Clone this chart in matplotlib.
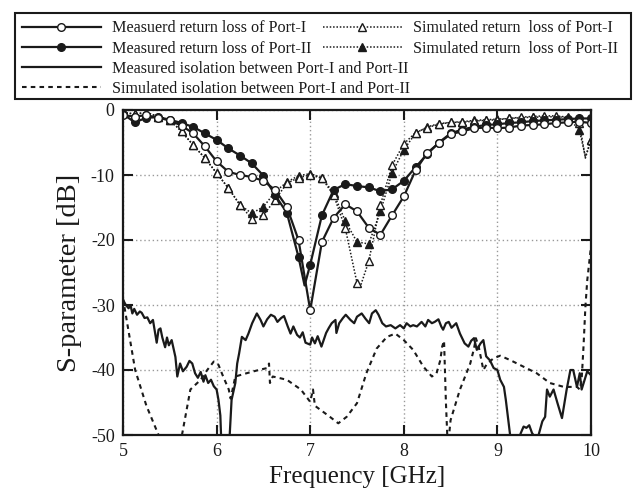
import numpy as np
import matplotlib
matplotlib.use("Agg")
import matplotlib.pyplot as plt
from matplotlib.lines import Line2D
from matplotlib.patches import Rectangle

plt.rcParams['font.family'] = ['Liberation Serif', 'DejaVu Serif']
plt.rcParams['axes.unicode_minus'] = False

# ---------------- data ----------------
# marker grid (GHz)
freq_grid = [5.0 + 0.125 * i for i in range(41)]

meas_p1 = [-0.8, -1.0, -0.8, -1.2, -1.6, -2.4, -3.6, -5.6, -7.9, -9.5,
           -10.0, -10.3, -10.9, -12.3, -14.9, -20.0, -30.8, -20.3, -16.6, -14.5,
           -15.6, -18.1, -19.2, -16.2, -13.3, -9.3, -6.6, -5.1, -3.7, -3.3,
           -2.8, -2.7, -2.8, -2.7, -2.4, -2.3, -2.2, -2.0, -1.9, -1.8, -2.0]

meas_p2 = [-0.6, -1.9, -1.2, -1.1, -1.5, -2.0, -2.6, -3.6, -4.6, -5.9,
           -7.0, -8.2, -10.1, -13.1, -15.8, -22.6, -23.8, -16.2, -12.3, -11.4,
           -11.7, -11.9, -12.5, -12.2, -10.9, -8.8, -6.8, -5.0, -3.6, -3.0,
           -2.6, -2.3, -2.2, -2.0, -1.9, -1.7, -1.6, -1.5, -1.4, -1.3, -1.3]

sim_p1 = [-0.4, -0.6, -0.4, -1.0, -1.5, -3.3, -5.4, -7.4, -9.7, -12.0,
          -14.6, -16.7, -16.2, -13.8, -11.3, -10.4, -10.0, -10.5, -13.1, -18.2,
          -26.6, -23.3, -14.6, -8.5, -5.2, -3.5, -2.7, -2.2, -1.9, -1.9,
          -1.7, -1.6, -1.5, -1.3, -1.1, -1.0, -0.9, -0.9, -1.1, -2.0, -4.6]

sim_p2 = [-0.4, -0.6, -0.4, -1.0, -1.5, -3.3, -5.4, -7.4, -9.7, -12.0,
          -14.6, -15.9, -14.9, -12.6, -11.1, -10.1, -9.8, -10.4, -12.8, -17.1,
          -20.3, -20.6, -15.6, -9.7, -6.1, -3.6, -2.6, -2.1, -1.9, -1.8,
          -1.6, -1.5, -1.4, -1.3, -1.2, -1.1, -1.1, -1.0, -1.2, -3.0, -4.6]

# extra line vertices (between markers) for the sharp dips
meas_p2_extra_f = [6.94]
meas_p2_extra_v = [-27.0]
sim_p1_extra_f = [7.53, 9.94]
sim_p1_extra_v = [-27.4, -7.4]
sim_p2_extra_f = [9.94]
sim_p2_extra_v = [-7.2]

iso_meas_f = [5.00, 5.03, 5.06, 5.08, 5.10, 5.12, 5.15, 5.18, 5.20, 5.23, 5.26, 5.29, 5.32, 5.34,
              5.36, 5.38, 5.40, 5.42, 5.45, 5.47, 5.49, 5.52, 5.56, 5.58, 5.61, 5.64, 5.68, 5.71,
              5.74, 5.77, 5.80, 5.83, 5.86, 5.88, 5.91, 5.94, 5.97, 6.00, 6.02, 6.04, 6.06, 6.13,
              6.14, 6.16, 6.20, 6.22, 6.24, 6.27, 6.31, 6.34, 6.38, 6.43, 6.47, 6.50, 6.54, 6.58,
              6.62, 6.65, 6.69, 6.72, 6.76, 6.79, 6.82, 6.86, 6.89, 6.92, 6.95, 7.00, 7.02, 7.05,
              7.08, 7.12, 7.17, 7.20, 7.23, 7.27, 7.28, 7.31, 7.35, 7.38, 7.43, 7.47, 7.50, 7.55,
              7.59, 7.63, 7.66, 7.70, 7.73, 7.77, 7.81, 7.86, 7.91, 7.96, 8.00, 8.03, 8.07, 8.10,
              8.14, 8.19, 8.23, 8.26, 8.30, 8.33, 8.37, 8.40, 8.42, 8.45, 8.48, 8.51, 8.56, 8.60,
              8.65, 8.69, 8.72, 8.75, 8.78, 8.82, 8.85, 8.88, 8.92, 8.96, 9.00, 9.03, 9.07, 9.09,
              9.12, 9.14, 9.16, 9.20, 9.22, 9.25, 9.28, 9.31, 9.34, 9.37, 9.40, 9.44, 9.48, 9.51,
              9.53, 9.56, 9.60, 9.64, 9.69, 9.74, 9.78, 9.81, 9.85, 9.88, 9.90, 9.96, 10.00]
iso_meas_v = [-29.2, -30.0, -30.5, -30.0, -31.3, -30.6, -31.5, -31.0, -31.2, -32.0, -31.9, -32.8, -32.3, -34.0,
              -35.8, -33.8, -33.6, -35.0, -36.5, -35.0, -36.2, -35.4, -38.0, -41.0, -39.0, -40.2, -39.5, -38.6,
              -39.0, -40.5, -41.2, -40.3, -41.8, -40.8, -42.0, -41.5, -42.5, -43.0, -44.6, -47.0, -55.0, -55.0,
              -50.0, -44.6, -42.0, -39.0, -37.5, -34.9, -35.4, -34.4, -32.8, -31.3, -32.3, -33.3, -32.2, -31.5,
              -31.8, -32.6, -32.0, -31.7, -33.3, -34.4, -33.3, -34.6, -35.0, -34.2, -35.8, -36.1, -35.0, -35.9,
              -34.8, -36.4, -34.3, -33.5, -32.8, -32.3, -34.3, -32.8, -32.0, -31.5, -32.3, -32.8, -31.8, -31.3,
              -32.1, -32.8, -31.3, -30.8, -31.5, -32.8, -33.3, -33.1, -33.6, -33.1, -33.6, -32.8, -33.3, -33.1,
              -33.3, -32.6, -33.3, -32.3, -32.8, -32.6, -32.2, -33.3, -33.8, -32.8, -32.6, -33.5, -32.8, -34.4,
              -35.9, -36.4, -35.5, -35.1, -36.9, -35.9, -35.4, -37.9, -38.5, -39.7, -40.0, -41.5, -42.6, -44.6,
              -48.2, -50.5, -51.0, -50.3, -51.0, -49.7, -48.7, -48.9, -48.5, -49.7, -50.3, -50.0, -47.9, -47.2,
              -43.0, -44.1, -43.0, -45.0, -47.4, -43.0, -40.0, -40.0, -42.6, -40.5, -43.0, -40.2, -40.8]

iso_sim_f = [5.00, 5.13, 5.25, 5.38, 5.45, 5.55, 5.63, 5.72, 5.83, 5.90, 5.97, 6.02, 6.07, 6.13,
             6.15, 6.20, 6.32, 6.45, 6.54, 6.56, 6.57, 6.60, 6.75, 6.90, 7.00, 7.03, 7.05, 7.21,
             7.30, 7.39, 7.50, 7.60, 7.71, 7.82, 7.91, 8.00, 8.10, 8.21, 8.30, 8.35, 8.39, 8.41,
             8.43, 8.45, 8.47, 8.50, 8.60, 8.71, 8.75, 8.77, 8.80, 8.85, 8.89, 8.96, 9.03, 9.14,
             9.28, 9.42, 9.56, 9.71, 9.85, 9.88, 9.90, 9.92, 9.94, 9.96, 10.00]
iso_sim_v = [-29.0, -40.0, -45.5, -50.0, -53.0, -53.0, -50.0, -43.0, -41.5, -40.0, -38.7, -39.2, -41.0, -43.0,
             -44.4, -41.0, -40.5, -40.0, -39.7, -39.0, -42.0, -41.0, -41.5, -43.0, -44.9, -43.0, -45.5, -47.2,
             -48.2, -47.2, -45.1, -40.5, -36.7, -34.9, -34.4, -35.4, -36.9, -39.5, -41.0, -40.5, -38.5, -36.4,
             -35.5, -45.0, -52.0, -47.7, -43.0, -39.0, -36.7, -35.1, -36.4, -40.0, -39.0, -38.2, -37.8, -38.5,
             -39.5, -40.5, -42.0, -42.6, -42.6, -43.0, -41.5, -36.4, -30.3, -26.2, -21.0]

x_ticks = [5, 6, 7, 8, 9, 10]
y_ticks = [0, -10, -20, -30, -40, -50]

labels = ["Measuerd return loss of Port-I",
          "Measured return loss of Port-II",
          "Measured isolation between Port-I and Port-II",
          "Simulated isolation between Port-I and Port-II",
          "Simulated return  loss of Port-I",
          "Simulated return  loss of Port-II"]

# ---------------- figure ----------------
W, H = 634, 493
fig = plt.figure(figsize=(W / 100, H / 100), dpi=100)
ax = fig.add_axes([123 / W, 1 - 435 / H, (591 - 123) / W, (435 - 110) / H])

K = '#1a1a1a'


def merged(fg, vg, fe, ve):
    f = list(fg) + list(fe)
    v = list(vg) + list(ve)
    order = np.argsort(f)
    return np.array(f)[order], np.array(v)[order]


lw_m = 1.6
ms = 5.5

# isolation
ax.plot(iso_sim_f, iso_sim_v, color=K, lw=1.5, ls=(0, (2.2, 2.0)))
ax.plot(iso_meas_f, iso_meas_v, color=K, lw=1.6)

# simulated return losses (dotted + triangles)
f, v = merged(freq_grid, sim_p2, sim_p2_extra_f, sim_p2_extra_v)
ax.plot(f, v, color=K, lw=1.1, ls=(0, (1, 1.2)))
ax.plot(freq_grid, sim_p2, ls='none', marker='^', ms=ms, mfc=K, mec=K)
f, v = merged(freq_grid, sim_p1, sim_p1_extra_f, sim_p1_extra_v)
ax.plot(f, v, color=K, lw=1.1, ls=(0, (1, 1.2)))
ax.plot(freq_grid, sim_p1, ls='none', marker='^', ms=ms, mfc='white', mec=K, mew=1.0)

# measured return losses (solid + circles)
f, v = merged(freq_grid, meas_p2, meas_p2_extra_f, meas_p2_extra_v)
ax.plot(f, v, color=K, lw=lw_m)
ax.plot(freq_grid, meas_p2, ls='none', marker='o', ms=ms, mfc=K, mec=K)
ax.plot(freq_grid, meas_p1, color=K, lw=lw_m)
ax.plot(freq_grid, meas_p1, ls='none', marker='o', ms=ms, mfc='white', mec=K, mew=1.0)

ax.set_xlim(5, 10)
ax.set_ylim(-50, 0)
ax.set_xticks(x_ticks)
ax.set_yticks(y_ticks)
ax.set_xticklabels([str(t) for t in x_ticks])
ax.set_yticklabels([str(t) for t in y_ticks])
ax.tick_params(direction='in', length=7, width=1.5, top=True, right=True,
               labelsize=13, pad=6, colors=K)
ax.grid(True, ls=(0, (1, 2)), color='#999999', lw=1.0)
for s in ax.spines.values():
    s.set_linewidth(1.6)
    s.set_color(K)
ax.set_xlabel("Frequency [GHz]", fontsize=18, color=K, labelpad=4)
ax.set_ylabel("S-parameter [dB]", fontsize=20.5, color=K, labelpad=6)

# ---------------- legend ----------------
h_m1 = Line2D([], [], color=K, lw=lw_m, marker='o', ms=ms, mfc='white', mec=K)
h_m2 = Line2D([], [], color=K, lw=lw_m, marker='o', ms=ms, mfc=K, mec=K)
h_im = Line2D([], [], color=K, lw=1.6)
h_is = Line2D([], [], color=K, lw=1.5, ls=(0, (2.2, 2.0)))
h_s1 = Line2D([], [], color=K, lw=1.1, ls=(0, (1, 1.2)), marker='^', ms=ms, mfc='white', mec=K)
h_s2 = Line2D([], [], color=K, lw=1.1, ls=(0, (1, 1.2)), marker='^', ms=ms, mfc=K, mec=K)

common = dict(frameon=False, loc='upper left', borderpad=0, borderaxespad=0,
              handlelength=4.9, handletextpad=0.7, labelspacing=0.26,
              prop={'size': 11.6, 'family': 'Liberation Serif'})
leg1 = fig.legend([h_m1, h_m2, h_im, h_is], labels[:4],
                  bbox_to_anchor=(22 / W, 1 - 20.5 / H), **common)
leg2 = fig.legend([h_s1, h_s2], labels[4:],
                  bbox_to_anchor=(323 / W, 1 - 20.5 / H), **common)
for lg in (leg1, leg2):
    for t in lg.get_texts():
        t.set_color(K)

fig.add_artist(Rectangle((15 / W, 1 - 99 / H), (631 - 15) / W, (99 - 12.7) / H,
                         transform=fig.transFigure, fill=False, lw=1.5, ec=K))

fig.savefig("out.png", dpi=100)
